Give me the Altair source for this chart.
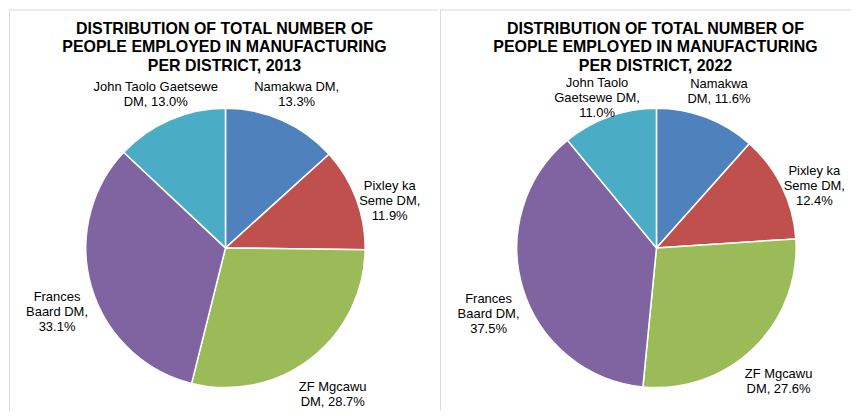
import altair as alt
import pandas as pd

FONT = "Arial, Liberation Sans, sans-serif"

districts = ["Namakwa DM", "Pixley ka Seme DM", "ZF Mgcawu DM", "Frances Baard DM", "John Taolo Gaetsewe DM"]
colors = ["#4F81BD", "#C0504D", "#9BBB59", "#8064A2", "#4BACC6"]

share_2013 = [13.3, 11.9, 28.7, 33.1, 13.0]
share_2022 = [11.6, 12.4, 27.6, 37.5, 11.0]

# label text as wrapped in the original; {} takes the percentage
label_2013 = ["Namakwa DM,\n{}", "Pixley ka\nSeme DM,\n{}", "ZF Mgcawu\nDM, {}", "Frances\nBaard DM,\n{}", "John Taolo Gaetsewe\nDM, {}"]
label_2022 = ["Namakwa\nDM, {}", "Pixley ka\nSeme DM,\n{}", "ZF Mgcawu\nDM, {}", "Frances\nBaard DM,\n{}", "John Taolo\nGaetsewe DM,\n{}"]

title_2013 = "DISTRIBUTION OF TOTAL NUMBER OF\nPEOPLE EMPLOYED IN MANUFACTURING\nPER DISTRICT, 2013"
title_2022 = "DISTRIBUTION OF TOTAL NUMBER OF\nPEOPLE EMPLOYED IN MANUFACTURING\nPER DISTRICT, 2022"

H = 403
CX, CY = 218, 240
BORDER = "#D9D9D9"


def panel(shares, labels, title, width):
    df = pd.DataFrame({
        "idx": list(range(len(districts))),
        "district": districts,
        "share": shares,
        "label": [l.format(f"{v:.1f}%") for l, v in zip(labels, shares)],
    })
    one = pd.DataFrame({"t": [title]})

    base = alt.Chart(df).encode(
        theta=alt.Theta("share:Q", stack=True),
        order=alt.Order("idx:Q", sort="ascending"),
    )
    pie = base.mark_arc(radius=140, stroke="white", strokeWidth=1.5).encode(
        x=alt.value(CX), y=alt.value(CY),
        color=alt.Color("district:N", scale=alt.Scale(domain=districts, range=colors), legend=None),
    )
    text = base.mark_text(
        radius=176, fontSize=13, font=FONT, lineBreak="\n", lineHeight=15,
        align="center", baseline="middle", color="#000000",
    ).encode(x=alt.value(CX), y=alt.value(CY), text="label:N")

    ttl = alt.Chart(one).mark_text(
        fontSize=16, fontWeight="bold", font=FONT, lineBreak="\n", lineHeight=18.5,
        align="center", baseline="alphabetic", color="#000000",
    ).encode(x=alt.value(217), y=alt.value(25.5), text="t:N")

    top = alt.Chart(one).mark_rule(color=BORDER, strokeWidth=1).encode(
        x=alt.value(1), x2=alt.value(width), y=alt.value(1.5))
    left = alt.Chart(one).mark_rule(color=BORDER, strokeWidth=1).encode(
        x=alt.value(1.5), y=alt.value(1), y2=alt.value(H))

    return alt.layer(top, left, pie, text, ttl).properties(width=width, height=H)


chart = alt.hconcat(
    panel(share_2013, label_2013, title_2013, 431),
    panel(share_2022, label_2022, title_2022, 413),
    spacing=0,
).properties(padding=0).configure_view(stroke=None)

chart.save("out.html", embed_options={"renderer": "svg", "actions": False})
